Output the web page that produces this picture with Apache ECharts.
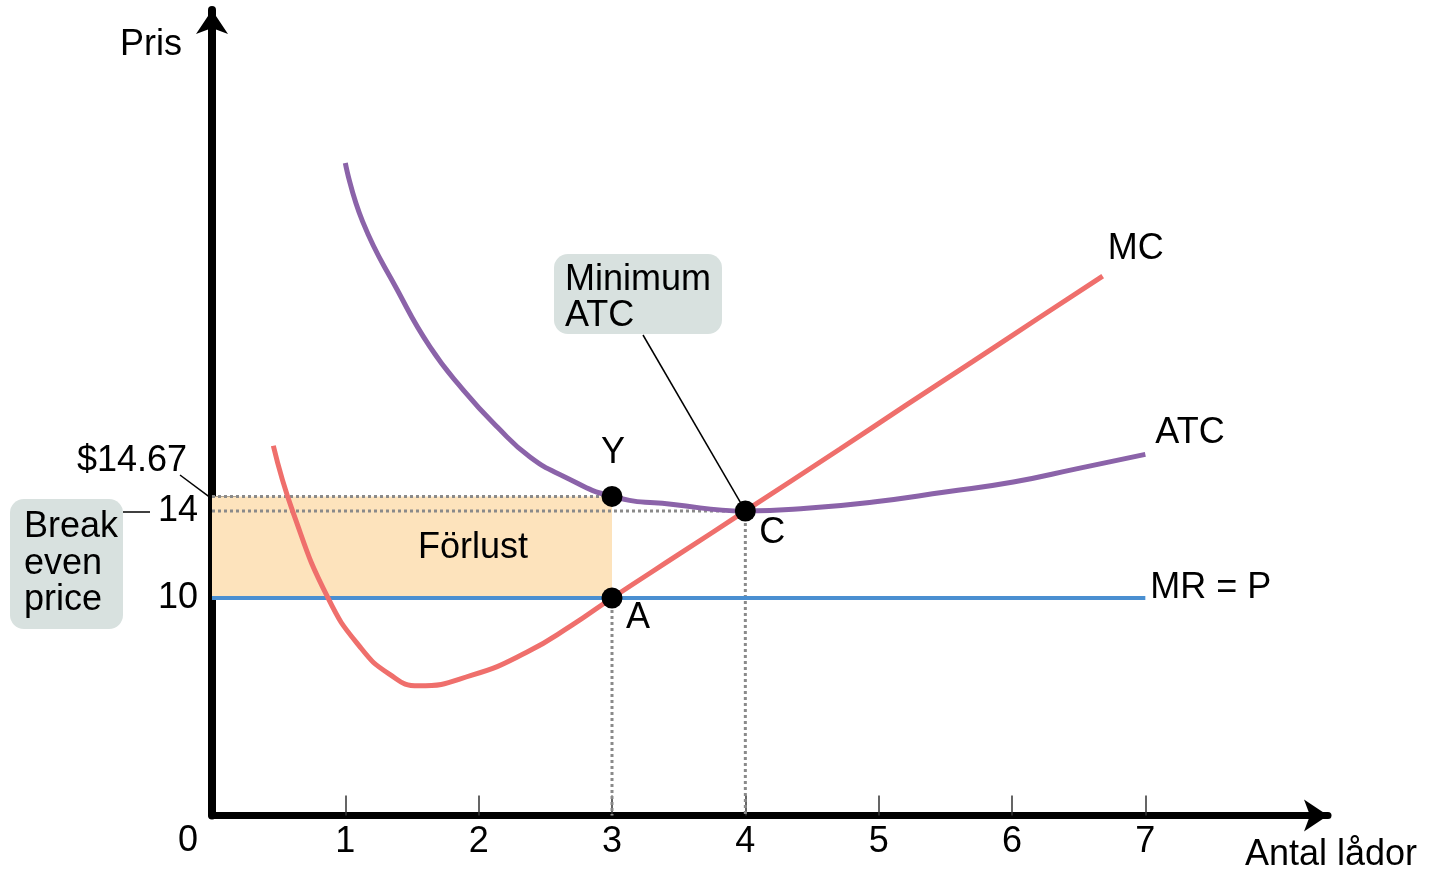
<!DOCTYPE html>
<html><head><meta charset="utf-8">
<script src="https://cdn.jsdelivr.net/npm/echarts@6/dist/echarts.min.js"></script>
<style>html,body{margin:0;padding:0;background:#fff}#c{width:1435px;height:869px}</style>
</head><body><div id="c"></div>
<script>
// ---- data ----
const xTicks = [1, 2, 3, 4, 5, 6, 7];
const yTickLabels = [10, 14];
const price = 10;          // MR = P
const atcAtLoss = 14.67;   // ATC at Q = 3
const minATC = 14;         // break even price
const qLoss = 3;
const qMin = 4;
const qEnd = 7;

const mcX = [0.46, 0.61, 0.87, 1.11, 1.33, 1.55, 1.95, 2.36, 2.7, 3, 3.5, 4, 4.71, 5.2, 5.71, 6.2, 6.68];
const mcY = [17.0, 13.9, 10.0, 7.75, 6.5, 5.96, 6.45, 7.5, 8.75, 10, 12.0, 14, 16.85, 18.84, 20.89, 22.87, 24.8];

const atcX = [1.0, 1.13, 1.39, 1.635, 1.885, 2.14, 2.385, 2.635, 3, 3.46, 4, 4.46, 4.96, 5.5, 6.01, 6.5, 7];
const atcY = [30.0, 27.3, 24.16, 21.54, 19.56, 17.86, 16.48, 15.6, 14.67, 14.3, 14.0, 14.12, 14.41, 14.87, 15.33, 15.96, 16.6];

const FONT = '"Liberation Sans", Arial, sans-serif';
const F36 = '36px ' + FONT;
const zip = (a, b) => a.map((v, i) => [v, b[i]]);

const chart = echarts.init(document.getElementById('c'), null, { renderer: 'canvas' });
const dotted = { color: '#8a8a8a', width: 3, type: [3, 3] };

const option = {
  animation: false,
  grid: { left: 212, right: 107, top: 10, bottom: 53.5 },
  xAxis: {
    type: 'value', min: 0, max: 8.37, splitLine: { show: false },
    axisLine: { lineStyle: { color: '#000', width: 7 }, symbol: ['none', 'arrow'], symbolSize: [24, 24] },
    axisTick: { show: true, inside: true, length: 20, customValues: xTicks, lineStyle: { color: '#333', width: 1.5 } },
    axisLabel: { customValues: xTicks, fontSize: 36, color: '#000', fontFamily: FONT, margin: 9 }
  },
  yAxis: {
    type: 'value', min: 0, max: 37.03, splitLine: { show: false },
    axisLine: { show: true, lineStyle: { color: '#000', width: 8 }, symbol: ['none', 'arrow'], symbolSize: [24, 24] },
    axisTick: { show: true, inside: true, length: 24, customValues: [minATC, atcAtLoss], lineStyle: { color: '#333', width: 1.5 } },
    axisLabel: { customValues: yTickLabels, fontSize: 36, color: '#000', fontFamily: FONT, margin: 14, padding: [0, 0, 26, 0] }
  },
  series: [
    {
      name: 'MR', type: 'line', data: [[0, price], [qEnd, price]], symbol: 'none', z: 3,
      lineStyle: { color: '#4a8fd1', width: 4 },
      markArea: { silent: true, itemStyle: { color: '#fde3bc', opacity: 1 }, z: 1,
        data: [[{ coord: [0, price] }, { coord: [qLoss, atcAtLoss] }]] }
    },
    { type: 'line', data: [[0, atcAtLoss], [qLoss, atcAtLoss]], symbol: 'none', lineStyle: dotted, z: 2 },
    { type: 'line', data: [[0, minATC], [qMin, minATC]], symbol: 'none', lineStyle: dotted, z: 2 },
    { type: 'line', data: [[qLoss, price], [qLoss, 0]], symbol: 'none', lineStyle: dotted, z: 2 },
    { type: 'line', data: [[qMin, minATC], [qMin, 0]], symbol: 'none', lineStyle: dotted, z: 2 },
    { name: 'ATC', type: 'line', data: zip(atcX, atcY), symbol: 'none', smooth: 0.5, z: 4,
      lineStyle: { color: '#8b63a9', width: 5 } },
    { name: 'MC', type: 'line', data: zip(mcX, mcY), symbol: 'none', smooth: 0.5, z: 5,
      lineStyle: { color: '#ef6f6c', width: 5 } },
    { type: 'scatter', data: [[qLoss, atcAtLoss], [qLoss, price], [qMin, minATC]], symbolSize: 21, z: 6,
      itemStyle: { color: '#000', opacity: 1 } }
  ]
};
chart.setOption(option);

const px = (x, y) => chart.convertToPixel({ gridIndex: 0 }, [x, y]);
function txt(text, x, y, align, extra) {
  return Object.assign({ type: 'text', z: 100, style: Object.assign({
    text: text, x: x, y: y + 3, font: F36, fill: '#000',
    textAlign: align, align: align, textVerticalAlign: 'middle', verticalAlign: 'middle'
  }, extra || {}) });
}
function line(x1, y1, x2, y2, w) {
  return { type: 'line', z: 90, shape: { x1: x1, y1: y1, x2: x2, y2: y2 }, style: { stroke: '#000', lineWidth: w || 1.5 } };
}

const pMC = px(mcX[mcX.length - 1], mcY[mcY.length - 1]);
const pATC = px(atcX[atcX.length - 1], atcY[atcY.length - 1]);
const pMR = px(qEnd, price);
const pY = px(qLoss, atcAtLoss);
const pA = px(qLoss, price);
const pC = px(qMin, minATC);
const pL = px(0, atcAtLoss);
const pO = px(0, 0);

const graphics = [
  txt('Pris', 120, 42, 'left'),
  txt('Antal lådor', 1245, 852, 'left'),
  txt('0', pO[0] - 24, 838, 'center'),
  txt('MC', pMC[0] + 5, pMC[1] - 30, 'left'),
  txt('ATC', pATC[0] + 10, pATC[1] - 24, 'left'),
  txt('MR = P', pMR[0] + 5, pMR[1] - 13, 'left'),
  txt('Y', pY[0] + 1, pY[1] - 46, 'center'),
  txt('A', pA[0] + 26, pA[1] + 17, 'center'),
  txt('C', pC[0] + 27, pC[1] + 19, 'center'),
  txt('Förlust', 473, 545, 'center'),
  txt('$14.67', 187, 458, 'right'),
  line(180, 475, pL[0] - 2, pL[1] + 1),
  line(123, 512, 150, 512),
  { type: 'rect', z: 80, shape: { x: 554, y: 254, width: 168, height: 80, r: 14 }, style: { fill: '#d8e1df' } },
  txt('Minimum\nATC', 565, 295, 'left', { lineHeight: 36 }),
  line(643, 335, pC[0], pC[1]),
  { type: 'rect', z: 80, shape: { x: 10, y: 499, width: 113, height: 130, r: 14 }, style: { fill: '#d8e1df' } },
  txt('Break\neven\nprice', 24, 561, 'left', { lineHeight: 36.5 })
];
chart.setOption({ graphic: graphics });
</script>
</body></html>
